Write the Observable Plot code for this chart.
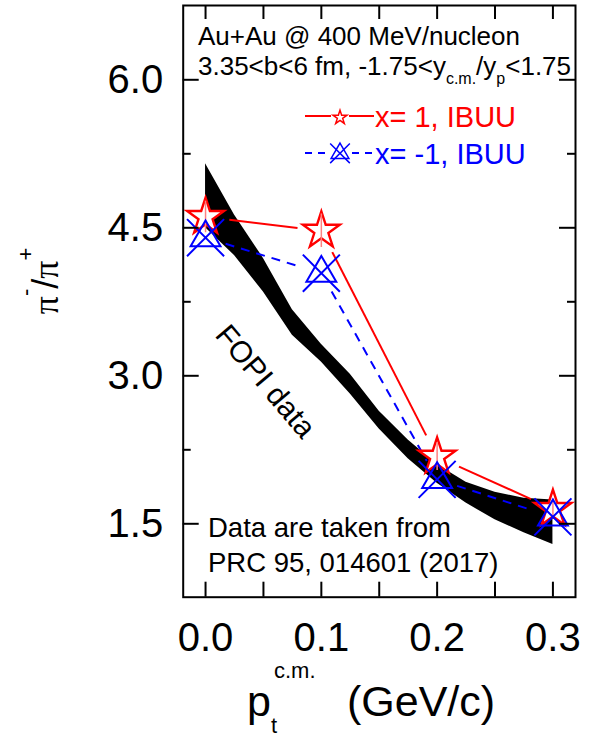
<!DOCTYPE html>
<html><head><meta charset="utf-8">
<script src="https://cdn.jsdelivr.net/npm/d3@7"></script>
<script src="https://cdn.jsdelivr.net/npm/@observablehq/plot@0.6"></script>
<style>body{margin:0;background:#fff;} svg{display:block;}</style>
</head><body><div id="chart"></div>
<script>
// ---- data ----
const pt = [0, 0.1, 0.2, 0.3];
const ratioX1 = [4.61, 4.47, 2.18, 1.65];      // x = 1, IBUU
const errX1 = [0.16, 0.17, 0.14, 0.10];
const ratioXm1 = [4.40, 4.04, 1.95, 1.57];     // x = -1, IBUU
const fopiPt = [0, 0.025, 0.05, 0.075, 0.1, 0.125, 0.15, 0.175, 0.2, 0.225, 0.25, 0.275, 0.3];
const fopiUpper = [5.15, 4.63, 4.19, 3.67, 3.32, 3.015, 2.64, 2.35, 2.10, 1.92, 1.82, 1.76, 1.74];
const fopiLower = [4.50, 4.22, 3.85, 3.41, 3.14, 2.815, 2.46, 2.16, 1.91, 1.71, 1.54, 1.41, 1.29];
const xTicks = [0, 0.1, 0.2, 0.3];
const xMinorTicks = [0, 0.05, 0.1, 0.15, 0.2, 0.25, 0.3];
const yTicks = [1.5, 3.0, 4.5, 6.0];
const yMinorTicks = [2.25, 3.75, 5.25];
const legendLabels = ["x= 1, IBUU", "x= -1, IBUU"];

// ---- layout ----
const FONT = "Liberation Sans, Arial, Helvetica, sans-serif";
const W = 596, H = 738;
const mL = 182.7, mR = 21, mT = 5, mB = 141.3;
const frameW = W - mL - mR, frameH = H - mT - mB;

const band = fopiPt.map((x, i) => ({x, lo: fopiLower[i], hi: fopiUpper[i]}));
const red = pt.map((x, i) => ({x, y: ratioX1[i], e: errX1[i]}));
const blue = pt.map((x, i) => ({x, y: ratioXm1[i]}));
const segs = a => d3.pairs(a).map(([p, q]) => ({x1: p.x, y1: p.y, x2: q.x, y2: q.y}));

const chart = Plot.plot({
  width: W, height: H,
  marginLeft: mL, marginRight: mR, marginTop: mT, marginBottom: mB,
  style: {fontFamily: FONT, background: "white", color: "black", overflow: "visible"},
  x: {domain: [-0.0193, 0.3195]},
  y: {domain: [0.756, 6.753]},
  marks: [
    Plot.areaY(band, {x: "x", y1: "lo", y2: "hi", fill: "black", curve: "linear"}),
    Plot.arrow(segs(red), {x1: "x1", y1: "y1", x2: "x2", y2: "y2", stroke: "#ff0000", strokeWidth: 2, inset: 24, headLength: 0, strokeLinecap: "butt"}),
    Plot.arrow(segs(blue), {x1: "x1", y1: "y1", x2: "x2", y2: "y2", stroke: "#0000ff", strokeWidth: 2, inset: 21, headLength: 0, strokeLinecap: "butt", strokeDasharray: "9,7"}),
    Plot.dot(red, {x: "x", y: "y", symbol: "star", r: 11.6, fill: "white", stroke: "#ff0000", strokeWidth: 2.4}),
    Plot.ruleX(red, {x: "x", y1: d => d.y - d.e, y2: d => d.y + d.e, stroke: "#ff8080", strokeWidth: 1.5}),
    Plot.dot(blue, {x: "x", y: "y", symbol: "triangle", r: 11.1, fill: "none", stroke: "#0000ff", strokeWidth: 2}),
    Plot.dot(blue, {x: "x", y: "y", symbol: "times", r: 16.9, stroke: "#0000ff", strokeWidth: 2}),
    Plot.tickX(xMinorTicks, {x: d => d, insetTop: frameH - 15, strokeWidth: 2}),
    Plot.tickX(xMinorTicks, {x: d => d, insetBottom: frameH - 14, strokeWidth: 2}),
    Plot.tickY(yTicks, {y: d => d, insetRight: frameW - 16, strokeWidth: 2}),
    Plot.tickY(yTicks, {y: d => d, insetLeft: frameW - 16, strokeWidth: 2}),
    Plot.tickY(yMinorTicks, {y: d => d, insetRight: frameW - 8, strokeWidth: 2}),
    Plot.tickY(yMinorTicks, {y: d => d, insetLeft: frameW - 8, strokeWidth: 2}),
    Plot.frame({strokeWidth: 2, stroke: "black"}),
    Plot.axisX({ticks: xTicks, tickSize: 0, tickPadding: 25, tickFormat: d3.format(".1f"), fontSize: 40, label: null}),
    Plot.axisY({ticks: yTicks, tickSize: 0, tickPadding: 20, tickFormat: d3.format(".1f"), fontSize: 40, label: null})
  ]
});
document.getElementById("chart").appendChild(chart);

// ---- annotations ----
const svg = d3.select(chart);
const g = svg.append("g").attr("font-family", FONT).attr("fill", "black").attr("text-anchor", "start");

g.append("text").attr("x", 198).attr("y", 45).attr("font-size", 26).text("Au+Au @ 400 MeV/nucleon");
const t2 = g.append("text").attr("x", 198).attr("y", 75).attr("font-size", 26);
t2.append("tspan").text("3.35<b<6 fm, -1.75<y");
t2.append("tspan").attr("font-size", 16).attr("dy", 9).text("c.m.");
t2.append("tspan").attr("dy", -9).text("/y");
t2.append("tspan").attr("font-size", 16).attr("dy", 9).text("p");
t2.append("tspan").attr("dy", -9).text("<1.75");

// legend
const lg = g.append("g");
lg.append("line").attr("x1", 305).attr("x2", 331).attr("y1", 116).attr("y2", 116).attr("stroke", "#ff0000").attr("stroke-width", 2);
lg.append("line").attr("x1", 349).attr("x2", 374).attr("y1", 116).attr("y2", 116).attr("stroke", "#ff0000").attr("stroke-width", 2);
lg.append("path").attr("transform", "translate(340,117.5)").attr("d", d3.symbol(d3.symbolStar, Math.PI * 4.4 * 4.4)())
  .attr("fill", "white").attr("stroke", "#ff0000").attr("stroke-width", 1.5);
lg.append("text").attr("x", 375).attr("y", 127).attr("font-size", 29).attr("fill", "#ff0000").text(legendLabels[0]);

lg.append("line").attr("x1", 305).attr("x2", 329).attr("y1", 153).attr("y2", 153).attr("stroke", "#0000ff").attr("stroke-width", 2).attr("stroke-dasharray", "7,6");
lg.append("line").attr("x1", 352).attr("x2", 374).attr("y1", 153).attr("y2", 153).attr("stroke", "#0000ff").attr("stroke-width", 2).attr("stroke-dasharray", "7,6");
lg.append("path").attr("transform", "translate(340,153.3)").attr("d", d3.symbol(d3.symbolTriangle, Math.PI * 6.6 * 6.6)())
  .attr("fill", "none").attr("stroke", "#0000ff").attr("stroke-width", 1.5);
lg.append("path").attr("transform", "translate(340,153.3)").attr("d", d3.symbol(d3.symbolTimes, Math.PI * 9 * 9)())
  .attr("fill", "none").attr("stroke", "#0000ff").attr("stroke-width", 1.5);
lg.append("text").attr("x", 375).attr("y", 163.5).attr("font-size", 29).attr("fill", "#0000ff").text(legendLabels[1]);

// FOPI label
g.append("text").attr("transform", "translate(266,381) rotate(50)").attr("text-anchor", "middle")
  .attr("dominant-baseline", "central").attr("font-size", 30).text("FOPI data");

g.append("text").attr("x", 208).attr("y", 537).attr("font-size", 27.5).text("Data are taken from");
g.append("text").attr("x", 208).attr("y", 572).attr("font-size", 27.5).text("PRC 95, 014601 (2017)");

// axis titles
const xt = g.append("text").attr("x", 247).attr("y", 716).attr("font-size", 43);
xt.append("tspan").text("p");
xt.append("tspan").attr("x", 271).attr("dy", 17).attr("font-size", 22).text("t");
xt.append("tspan").attr("x", 274).attr("dy", -55).attr("font-size", 22).text("c.m.");
xt.append("tspan").attr("x", 347).attr("dy", 38).text("(GeV/c)");

const yt = g.append("text").attr("transform", "translate(58,281) rotate(-90)").attr("text-anchor", "middle")
  .attr("font-family", "Liberation Serif, Times New Roman, serif").attr("font-size", 36);
yt.append("tspan").text("π");
yt.append("tspan").attr("dy", -25).attr("font-size", 22).attr("font-family", FONT).text("-");
yt.append("tspan").attr("dy", 25).attr("font-family", FONT).text("/");
yt.append("tspan").text("π");
yt.append("tspan").attr("dy", -25).attr("font-size", 22).attr("font-family", FONT).text("+");
</script>
</body></html>
